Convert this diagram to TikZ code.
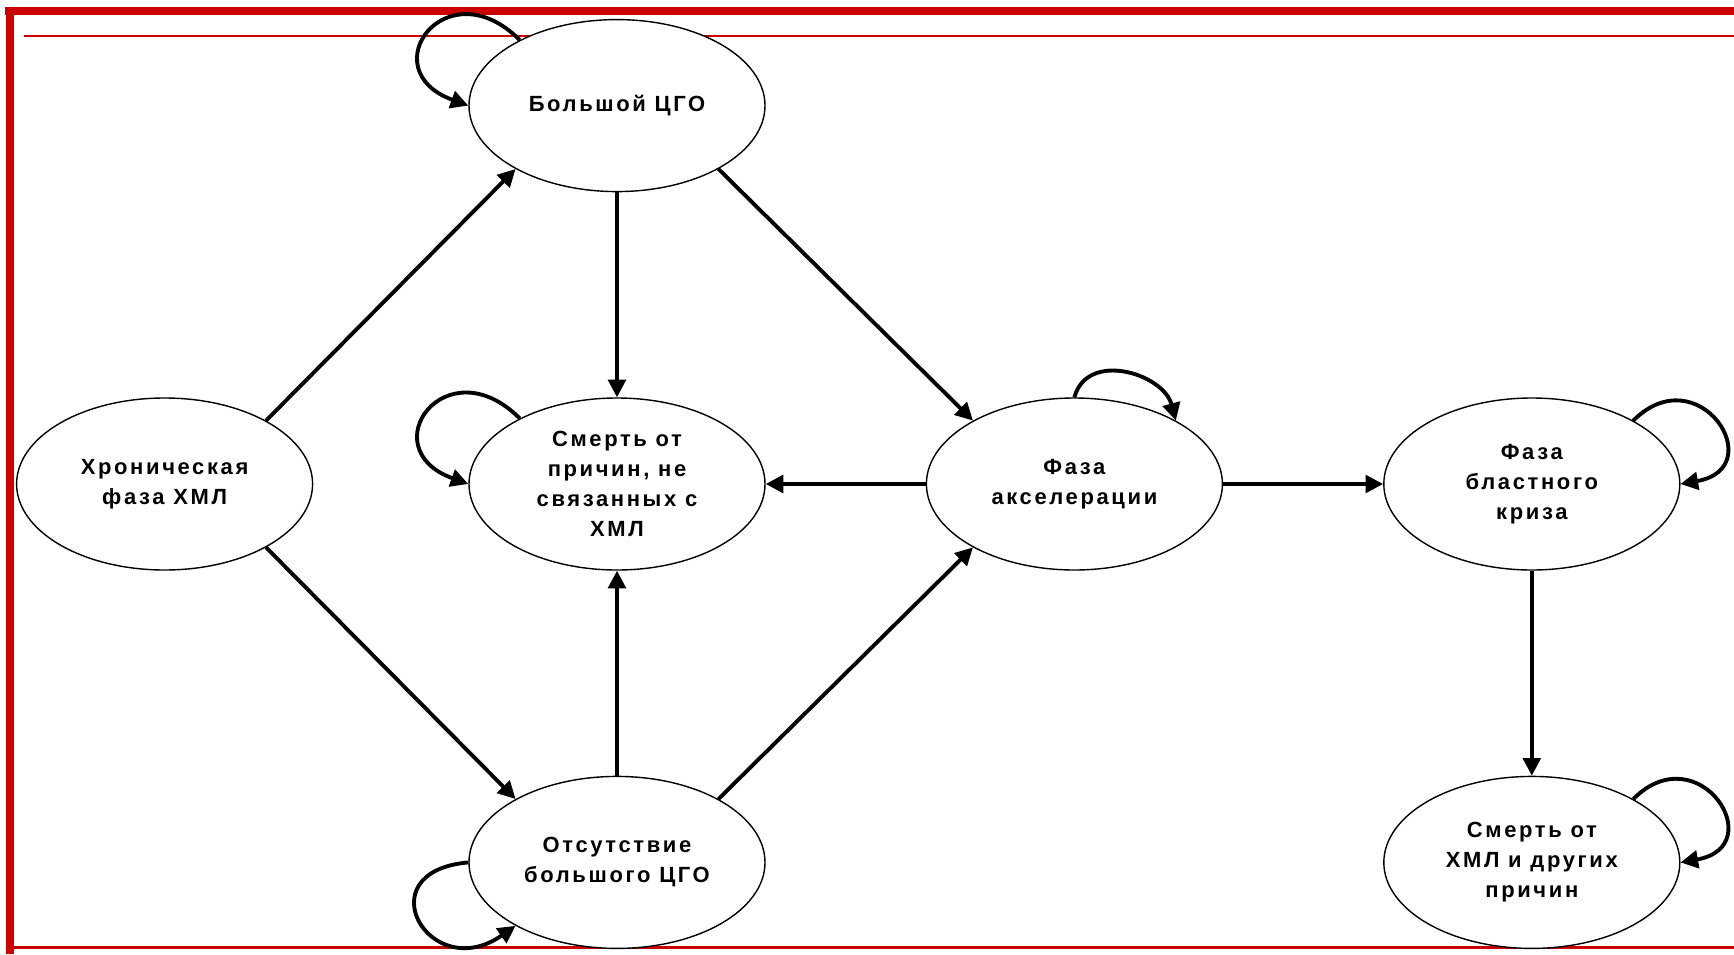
\documentclass[tikz,border=0pt]{standalone}
\usepackage{fontspec}
\setmainfont{Liberation Sans}
\newfontfamily\phasefamily[LetterSpace=12]{Liberation Sans}
\usetikzlibrary{arrows.meta,positioning,shapes.geometric}
\definecolor{cmlred}{HTML}{CC0000}
\definecolor{cmlink}{HTML}{000000}
\tikzset{
  phase/.style={ellipse, draw=cmlink, line width=0.8pt, fill=white, minimum width=5.92cm, minimum height=3.44cm, inner sep=0pt, align=center, font=\phasefamily\fontsize{12.5}{17}\selectfont\bfseries},
  arr/.style={-{Triangle[length=10pt,width=10pt]}, line width=2.2pt, color=cmlink},
}
\begin{document}
\begin{tikzpicture}[node distance=4.1cm and 3.15cm]
    \useasboundingbox (0,0) rectangle (34.68,-19.08);
    \fill[cmlred] (0.10,-0.14) rectangle (34.68,-0.30);
    \fill[cmlred] (0.12,-0.14) rectangle (0.28,-19.08);
    \draw[cmlred, line width=0.9pt] (0.48,-0.72) -- (34.68,-0.72);
    \draw[cmlred, line width=1.7pt] (0.28,-18.94) -- (34.68,-18.94);
    \node[phase] (noncml) at (12.34,-9.68) {Смерть от\\причин, не\\связанных с\\ХМЛ};
    \node[phase, above=of noncml] (bigcgo) {Большой ЦГО};
    \node[phase, below=of noncml] (nocgo) {Отсутствие\\большого ЦГО};
    \node[phase, left=3.1cm of noncml] (chronic) {Хроническая\\фаза ХМЛ};
    \node[phase, right=3.2cm of noncml] (accel) {Фаза\\акселерации};
    \node[phase, right=3.2cm of accel] (blast) {Фаза\\бластного\\криза};
    \node[phase, below=of blast] (cmldeath) {Смерть от\\ХМЛ и других\\причин};
    \draw[arr] (chronic.32) -- (bigcgo.212); \draw[arr] (chronic.328) -- (nocgo.148);
    \draw[arr] (bigcgo.south) -- (noncml.north); \draw[arr] (bigcgo.328) -- (accel.148);
    \draw[arr] (nocgo.north) -- (noncml.south); \draw[arr] (nocgo.32) -- (accel.212);
    \draw[arr] (accel.west) -- (noncml.east); \draw[arr] (accel.east) -- (blast.west);
    \draw[arr] (blast.south) -- (cmldeath.north);
    \draw[arr] (bigcgo.146) to[out=135, in=160, looseness=3.2] (bigcgo.west);
    \draw[arr] (noncml.146) to[out=135, in=160, looseness=3.2] (noncml.west);
    \draw[arr] (nocgo.west) to[out=185, in=215, looseness=3.4] (nocgo.212);
    \draw[arr] (accel.north) to[out=75, in=105, looseness=1.2] (accel.32);
    \draw[arr] (blast.32) to[out=45, in=10, looseness=3] (blast.east);
    \draw[arr] (cmldeath.32) to[out=45, in=10, looseness=3] (cmldeath.east);
\end{tikzpicture}
\end{document}
